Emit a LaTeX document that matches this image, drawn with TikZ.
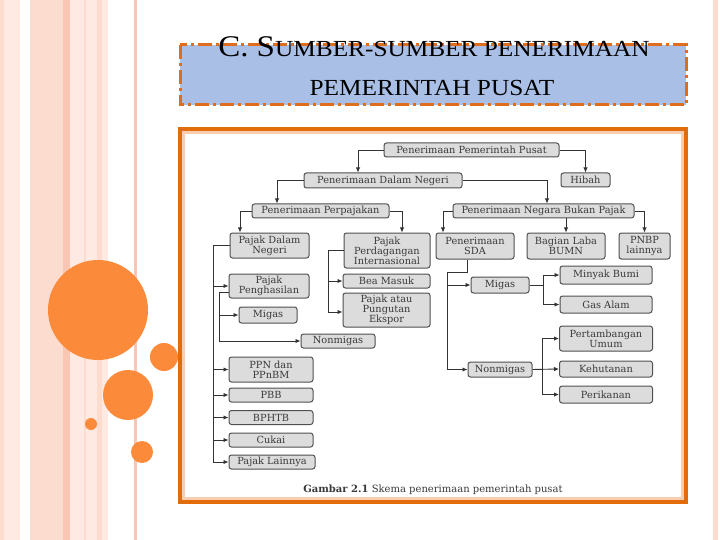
\documentclass[tikz,border=0pt]{standalone}
\usepackage{fontspec}
\setmainfont{Liberation Serif}
\newfontfamily\titlefont[FakeStretch=1.1]{Liberation Serif}
\newfontfamily\boxfont{DejaVu Serif}
\usepackage{tikz}
\usetikzlibrary{arrows.meta}
\definecolor{pinka}{HTML}{FCDCCF}
\definecolor{pinkb}{HTML}{F9C6B3}
\definecolor{pinkc}{HTML}{FEEAE2}
\definecolor{circc}{HTML}{FB8A3A}
\definecolor{framec}{HTML}{E36C0A}
\definecolor{peach}{HTML}{F9CDB0}
\definecolor{titleb}{HTML}{DE6E1E}
\definecolor{titlef}{HTML}{A9BFE6}
\definecolor{boxf}{HTML}{DCDCDC}
\definecolor{boxd}{HTML}{505050}
\definecolor{txtc}{HTML}{3A3A3A}
\definecolor{linec}{HTML}{333333}
\tikzset{
  ar/.style={-{Latex[length=5pt,width=4.5pt]},line width=0.9pt,linec},
  box/.style={draw=boxd,fill=boxf,line width=1pt,rounded corners=2.5pt,align=center,inner sep=0pt,text=txtc,font=\fontsize{9.8}{10}\boxfont},
  sz/.style 2 args={minimum width=#1pt,minimum height=#2pt}
}

\begin{document}
\begin{tikzpicture}[x=1pt,y=-1pt]
\useasboundingbox (0,0) rectangle (720,540);
\fill[white] (0,0) rectangle (720,540);
\fill[pinka] (0,0) rectangle (4,540);
\fill[pinkc] (4,0) rectangle (20,540);
\fill[pinka] (30,0) rectangle (63,540);
\fill[pinkb] (63,0) rectangle (70,540);
\fill[pinkc] (70,0) rectangle (97,540);
\fill[pinka] (84,0) rectangle (85.5,540);
\fill[pinka] (97,0) rectangle (102,540);
\fill[pinkc] (102,0) rectangle (108,540);
\fill[pinkb] (133.5,0) rectangle (137,540);
\fill[pinka] (713,0) rectangle (718,540);
\fill[circc] (98,310) circle (50);
\fill[circc] (164,357) circle (14);
\fill[circc] (128,395) circle (25);
\fill[circc] (91,424) circle (6);
\fill[circc] (142,452) circle (11);
\draw[titleb,line width=3pt,dash pattern=on 14pt off 4pt on 3pt off 4pt,fill=titlef] (180,45) rectangle (686,105);
\node[font=\fontsize{23}{23}\titlefont,anchor=base] (ttla) at (434,57) {{\fontsize{30}{30}\selectfont C. S}UMBER-SUMBER PENERIMAAN};
\node[font=\fontsize{23}{23}\titlefont,anchor=base] (ttlb) at (432,96) {PEMERINTAH PUSAT};
\draw[framec,line width=4pt,fill=white] (180,129) rectangle (686,502);
\draw[peach,line width=2.5pt] (183.5,132.5) rectangle (682.5,498.5);

\node[box,sz={175}{14}] (pusat) at (471.5,150) {Penerimaan Pemerintah Pusat};
\node[box,sz={49}{14}] (hibah) at (585.5,180) {Hibah};
\node[box,sz={158}{15}] (dn) at (383,180.5) {Penerimaan Dalam Negeri};
\node[box,sz={137}{14}] (perp) at (320.5,211) {Penerimaan Perpajakan};
\node[box,sz={181}{14}] (nbp) at (543.5,211) {Penerimaan Negara Bukan Pajak};
\node[box,sz={79}{25}] (pdn) at (269.5,245.5) {Pajak Dalam\\Negeri};
\node[box,sz={86}{35}] (ppi) at (387,250.5) {Pajak\\Perdagangan\\Internasional};
\node[box,sz={78}{26}] (sda) at (475,246) {Penerimaan\\SDA};
\node[box,sz={78}{26}] (blb) at (566,246) {Bagian Laba\\BUMN};
\node[box,sz={51}{26}] (pnbp) at (644.5,246) {PNBP\\lainnya};
\node[box,sz={80}{24}] (pph) at (269,286) {Pajak\\Penghasilan};
\node[box,sz={58}{16}] (mgl) at (268,315) {Migas};
\node[box,sz={74}{14}] (nml) at (338,341) {Nonmigas};
\node[box,sz={84}{25}] (ppn) at (271,369.5) {PPN dan\\PPnBM};
\node[box,sz={84}{14}] (pbb) at (271,395) {PBB};
\node[box,sz={84}{14}] (bphtb) at (271,417.5) {BPHTB};
\node[box,sz={84}{14}] (cukai) at (271,440) {Cukai};
\node[box,sz={86}{14}] (plain) at (272,462) {Pajak Lainnya};
\node[box,sz={87}{14}] (bm) at (386.5,281) {Bea Masuk};
\node[box,sz={87}{34}] (pae) at (386.5,310) {Pajak atau\\Pungutan\\Ekspor};
\node[box,sz={58}{16}] (mgr) at (500,285) {Migas};
\node[box,sz={64}{15}] (nmr) at (500,369.5) {Nonmigas};
\node[box,sz={92}{18}] (mb) at (606,275) {Minyak Bumi};
\node[box,sz={92}{17}] (ga) at (606,304.5) {Gas Alam};
\node[box,sz={93}{25}] (pu) at (606,338.5) {Pertambangan\\Umum};
\node[box,sz={93}{16}] (kh) at (606,369) {Kehutanan};
\node[box,sz={93}{17}] (pk) at (606,394.5) {Perikanan};
\node[font=\fontsize{10}{10}\boxfont,text=txtc] (cap) at (433,490) {\textbf{Gambar 2.1} Skema penerimaan pemerintah pusat};

\coordinate (ta) at (213,0);
\coordinate (tb) at (219,0);
\coordinate (tc) at (328,0);
\coordinate (td) at (447,272);
\coordinate (te) at (543,0);
\coordinate (tf) at (542,0);
\coordinate (pphl) at ([yshift=-6pt]pph.west);

\draw[ar] (pusat.west) -| ([xshift=-25pt]dn.north);
\draw[ar] (pusat.east) -| (hibah.north);
\draw[ar] (dn.west) -| ([xshift=-43.5pt]perp.north);
\draw[ar] (dn.east) -| ([xshift=3.5pt]nbp.north);
\draw[ar] (perp.west) -| ([xshift=-29.5pt]pdn.north);
\draw[ar] (perp.east) -| ([xshift=15pt]ppi.north);
\draw[ar] (nbp.west) -| ([xshift=-32pt]sda.north);
\draw[ar] (blb.north |- nbp.south) -- (blb.north);
\draw[ar] (nbp.east) -| (pnbp.north);

\draw[ar] (pdn.west) -- (pdn.west -| ta) |- (plain.west);
\draw[ar] (ta |- pph.west) -- (pph.west);
\draw[ar] (ta |- ppn.west) -- (ppn.west);
\draw[ar] (ta |- pbb.west) -- (pbb.west);
\draw[ar] (ta |- bphtb.west) -- (bphtb.west);
\draw[ar] (ta |- cukai.west) -- (cukai.west);
\draw[ar] (pphl) -- (pphl -| tb) |- (nml.west);
\draw[ar] (tb |- mgl.west) -- (mgl.west);

\draw[ar] (ppi.west) -- (ppi.west -| tc) |- ([yshift=-2pt]pae.west);
\draw[ar] (tc |- bm.west) -- (bm.west);

\draw[ar] ([xshift=-8pt]sda.south) |- (td) |- (nmr.west);
\draw[ar] (td |- mgr.west) -- (mgr.west);
\draw[ar] (mgr.east) -- (mgr.east -| te) |- (mb.west);
\draw[ar] (mgr.east -| te) |- (ga.west);
\draw[ar] (nmr.east) -- (kh.west);
\draw[ar] (nmr.east -| tf) |- (pu.west);
\draw[ar] (nmr.east -| tf) |- (pk.west);
\end{tikzpicture}
\end{document}
